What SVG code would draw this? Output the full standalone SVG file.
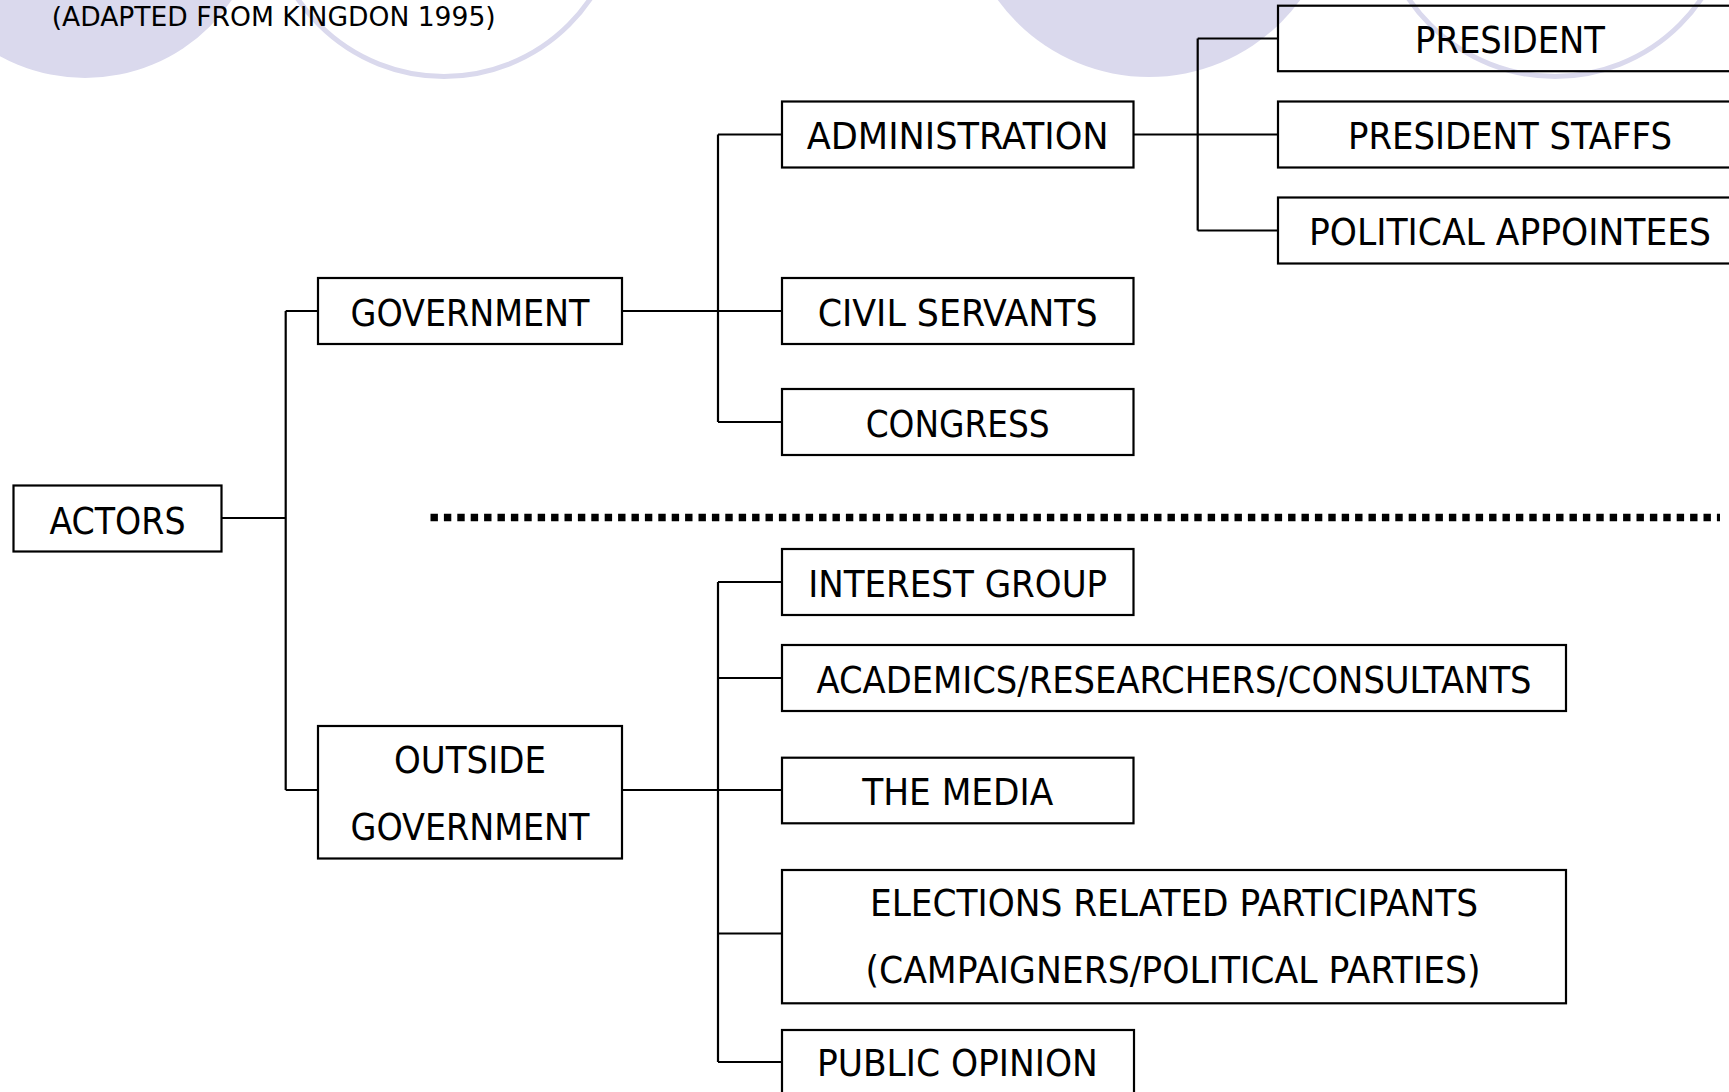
<svg xmlns="http://www.w3.org/2000/svg" width="1729" height="1092" viewBox="0 0 1729 1092">
<style>
.bg{fill:#dad9ed}
.ring{fill:none;stroke:#dad9ed;stroke-width:5}
.box{fill:none;stroke:#000;stroke-width:2.2}
.lbl{font-family:"DejaVu Sans Condensed","DejaVu Sans",sans-serif;font-stretch:condensed;font-size:37px;fill:#000;text-anchor:middle}
.ttl{font-family:"DejaVu Sans Condensed","DejaVu Sans",sans-serif;font-stretch:condensed;font-size:27px;fill:#000}
.con{fill:none;stroke:#000;stroke-width:2.2}
.dots{fill:none;stroke:#000;stroke-width:7.5;stroke-dasharray:7.4 6}
</style>
<rect width="1729" height="1092" fill="#fff"/>
<g id="background">
<circle class="bg" cx="85" cy="-99" r="177"/>
<circle class="ring" cx="444" cy="-100" r="176.5"/>
<circle class="bg" cx="1149" cy="-110" r="187"/>
<circle class="ring" cx="1555" cy="-100" r="176.5"/>
</g>
<text class="ttl" x="51.7" y="26" textLength="444" lengthAdjust="spacingAndGlyphs">(ADAPTED FROM KINGDON 1995)</text>
<g id="connectors">
<path class="con" d="M221.7 518H285.7M285.7 311V790M285.7 311H318M285.7 790H318"/>
<path class="con" d="M622 311H782M718 134.5V422M718 134.5H782M718 422H782"/>
<path class="con" d="M1133.5 134.5H1278M1197.7 38.5V230.5M1197.7 38.5H1278M1197.7 230.5H1278"/>
<path class="con" d="M622 790H782M718 582V1062M718 582H782M718 678H782M718 933.5H782M718 1062H782"/>
<path class="dots" d="M430.5 517.5H1720"/>
</g>
<g id="actors"><rect class="box" x="13.5" y="485.5" width="208" height="66"/><text class="lbl" x="117.5" y="534" textLength="136" lengthAdjust="spacingAndGlyphs">ACTORS</text></g>
<g id="government"><rect class="box" x="318" y="278" width="304" height="66"/><text class="lbl" x="470" y="325.5" textLength="239" lengthAdjust="spacingAndGlyphs">GOVERNMENT</text></g>
<g id="outside-government"><rect class="box" x="318" y="726" width="304" height="132.5"/><text class="lbl" x="470" y="773" textLength="152" lengthAdjust="spacingAndGlyphs">OUTSIDE</text><text class="lbl" x="470" y="840" textLength="239" lengthAdjust="spacingAndGlyphs">GOVERNMENT</text></g>
<g id="administration"><rect class="box" x="782" y="101.5" width="351.5" height="66"/><text class="lbl" x="957.7" y="148.7" textLength="302" lengthAdjust="spacingAndGlyphs">ADMINISTRATION</text></g>
<g id="civil-servants"><rect class="box" x="782" y="278" width="351.5" height="66"/><text class="lbl" x="957.7" y="325.5" textLength="280" lengthAdjust="spacingAndGlyphs">CIVIL SERVANTS</text></g>
<g id="congress"><rect class="box" x="782" y="389" width="351.5" height="66"/><text class="lbl" x="957.7" y="436.5" textLength="184" lengthAdjust="spacingAndGlyphs">CONGRESS</text></g>
<g id="president"><rect class="box" x="1278" y="5.7" width="465" height="65.5"/><text class="lbl" x="1510" y="52.7" textLength="190" lengthAdjust="spacingAndGlyphs">PRESIDENT</text></g>
<g id="president-staffs"><rect class="box" x="1278" y="101.5" width="465" height="66"/><text class="lbl" x="1510" y="148.7" textLength="324" lengthAdjust="spacingAndGlyphs">PRESIDENT STAFFS</text></g>
<g id="political-appointees"><rect class="box" x="1278" y="197.5" width="465" height="66"/><text class="lbl" x="1510" y="244.7" textLength="402" lengthAdjust="spacingAndGlyphs">POLITICAL APPOINTEES</text></g>
<g id="interest-group"><rect class="box" x="782" y="549" width="351.5" height="66"/><text class="lbl" x="957.7" y="596.5" textLength="299" lengthAdjust="spacingAndGlyphs">INTEREST GROUP</text></g>
<g id="academics"><rect class="box" x="782" y="645" width="784" height="66"/><text class="lbl" x="1174" y="692.5" textLength="715" lengthAdjust="spacingAndGlyphs">ACADEMICS/RESEARCHERS/CONSULTANTS</text></g>
<g id="the-media"><rect class="box" x="782" y="757.7" width="351.5" height="65.6"/><text class="lbl" x="957.7" y="805" textLength="191" lengthAdjust="spacingAndGlyphs">THE MEDIA</text></g>
<g id="elections"><rect class="box" x="782" y="870" width="784" height="133.3"/><text class="lbl" x="1174" y="916" textLength="608" lengthAdjust="spacingAndGlyphs">ELECTIONS RELATED PARTICIPANTS</text><text class="lbl" x="1173" y="983" textLength="615" lengthAdjust="spacingAndGlyphs">(CAMPAIGNERS/POLITICAL PARTIES)</text></g>
<g id="public-opinion"><rect class="box" x="782" y="1030" width="352" height="66"/><text class="lbl" x="957.4" y="1076" textLength="281" lengthAdjust="spacingAndGlyphs">PUBLIC OPINION</text></g>
</svg>
